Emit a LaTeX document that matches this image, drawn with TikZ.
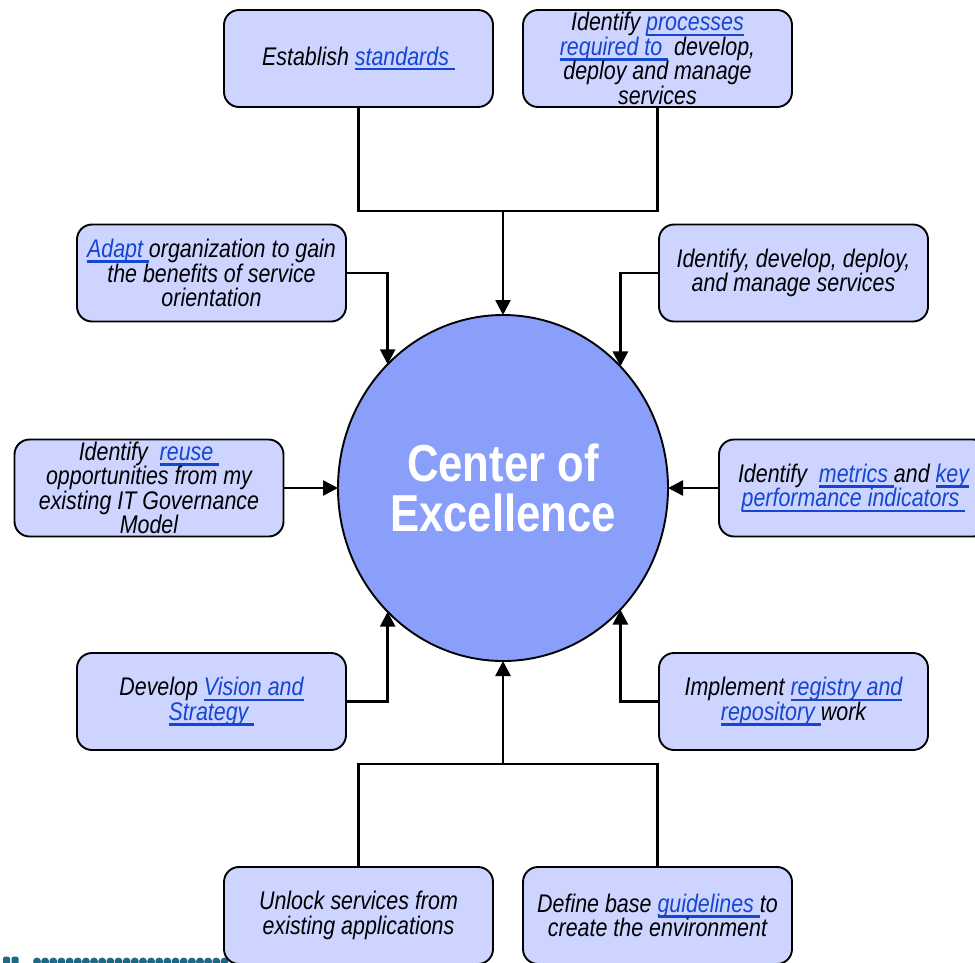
\documentclass[tikz,border=0pt]{standalone}
\usepackage{fontspec}
\setmainfont[FakeStretch=0.84]{Liberation Sans}
\usetikzlibrary{arrows.meta,shapes.geometric}
\definecolor{boxfill}{RGB}{204,212,255}
\definecolor{coefill}{RGB}{138,159,250}
\definecolor{linkblue}{RGB}{20,70,210}
\definecolor{logoteal}{RGB}{30,105,135}
\newcommand{\lnk}[1]{{\color{linkblue}\setbox0\hbox{#1}\rlap{\rule[-5.2pt]{\wd0}{2.4pt}}\box0}}
\begin{document}
\lineskiplimit=-1000pt\relax
\begin{tikzpicture}[x=1pt,y=-1pt,
  box/.style={draw=black, line width=1.9pt, fill=boxfill, rounded corners=15pt,
    minimum width=269pt, minimum height=97pt, align=center, inner sep=0pt, outer sep=0pt,
    font=\itshape\fontsize{25.5}{24.5}\selectfont},
  conn/.style={line width=2.6pt},
  arr/.style={conn, -{Triangle[length=15pt,width=15pt]}},
  coestyle/.style={ellipse, draw=black, line width=1.9pt, fill=coefill,
    minimum width=330pt, minimum height=346pt, inner sep=0pt, outer sep=0pt,
    text=white, align=center, font=\bfseries\fontsize{52}{50}\selectfont}]
\useasboundingbox (0,0) rectangle (975,962);
\begin{scope}
\clip (0,0) rectangle (975,962);
% partial logo at the bottom left
\fill[logoteal, rounded corners=1.5pt] (3,956.5) rectangle (10,964);
\fill[logoteal, rounded corners=1.5pt] (11.5,956.5) rectangle (18.5,964);
\foreach \i in {0,...,23} \fill[logoteal] (37+\i*8.15,961.5) circle (4);
% centre
\node[coestyle] (coe) at (503,488) {Center of\\Excellence};
% boxes
\node[box] (b1) at (358.5,58.5) {Establish \lnk{standards\ }};
\node[box] (b2) at (657.5,58.5) {Identify \lnk{processes}\\\lnk{required to\ }\ develop,\\deploy and manage\\services};
\node[box] (b3) at (211.5,273) {\lnk{Adapt\ }organization to gain\\the benefits of service\\orientation};
\node[box] (b4) at (793.5,273) {Identify, develop, deploy,\\and manage services};
\node[box] (b5) at (149,488) {Identify\ \ \lnk{reuse\ }\\opportunities from my\\existing IT Governance\\Model};
\node[box] (b6) at (853.5,488) {Identify\ \ \lnk{metrics\ }and \lnk{key}\\\lnk{performance indicators\ }};
\node[box] (b7) at (211.5,701.5) {Develop \lnk{Vision and}\\\lnk{Strategy\ }};
\node[box] (b8) at (793.5,701.5) {Implement \lnk{registry and}\\\lnk{repository\ }work};
\node[box] (b9) at (358.5,915.5) {Unlock services from\\existing applications};
\node[box] (b10) at (657.5,915.5) {Define base \lnk{guidelines\ }to\\create the environment};
% junctions
\coordinate (j1) at (503,211);
\coordinate (j2) at (503,764);
% connectors
\draw[conn] (b1.south) |- (j1) -| (b2.south);
\draw[arr] (j1) -- (coe.north);
\draw[conn] (b9.north) |- (j2) -| (b10.north);
\draw[arr] (j2) -- (coe.south);
\draw[arr] (b3.east) -| (coe.133.81);
\draw[arr] (b4.west) -| (coe.46.19);
\draw[arr] (b7.east) -| (coe.-133.81);
\draw[arr] (b8.west) -| (coe.-46.19);
\draw[arr] (b5.east) -- (coe.west);
\draw[arr] (b6.west) -- (coe.east);
\end{scope}
\end{tikzpicture}
\end{document}
